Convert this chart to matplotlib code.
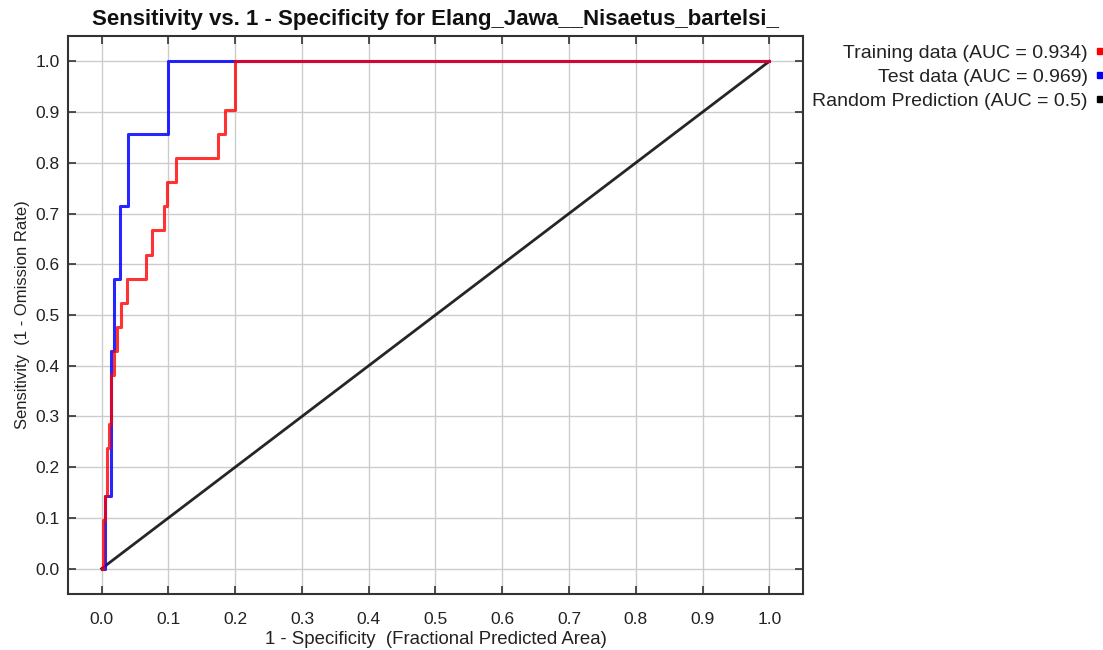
import matplotlib
matplotlib.use("Agg")
import matplotlib.pyplot as plt
import matplotlib.patches as mpatches

title = "Sensitivity vs. 1 - Specificity for Elang_Jawa__Nisaetus_bartelsi_"
xlabel = "1 - Specificity  (Fractional Predicted Area)"
ylabel = "Sensitivity  (1 - Omission Rate)"

train_fpr = [0, 0.002, 0.0045, 0.0075, 0.011, 0.0145, 0.018, 0.0235, 0.0285, 0.0375,
             0.066, 0.076, 0.093, 0.098, 0.112, 0.175, 0.185, 0.2, 1.0]
train_tpr = [n / 21 for n in [0, 2, 3, 5, 6, 8, 9, 10, 11, 12, 13, 14, 15, 16, 17, 18, 19, 21, 21]]
test_fpr = [0, 0.005, 0.0135, 0.018, 0.027, 0.04, 0.1, 1.0]
test_tpr = [n / 7 for n in [0, 1, 3, 4, 5, 6, 7, 7]]
rand_fpr = [0, 1]
rand_tpr = [0, 1]
legend_labels = ["Training data (AUC = 0.934)", "Test data (AUC = 0.969)", "Random Prediction (AUC = 0.5)"]
legend_colors = ["#ff0000", "#0000ff", "#000000"]
ticks = [round(0.1 * i, 1) for i in range(11)]

font = dict(fontfamily="Liberation Sans")
txt = "#222222"

fig = plt.figure(figsize=(11.03, 6.5), dpi=100)
ax = fig.add_axes([0.0619, 0.0862, 0.7277 - 0.0619, 0.9446 - 0.0862])
ax.set_xlim(-0.05, 1.05)
ax.set_ylim(-0.05, 1.05)
ax.grid(True, color="#cccccc", lw=1.0)
ax.set_axisbelow(True)

ax.plot(test_fpr, test_tpr, drawstyle="steps-post", color="#0000ff", lw=2.2, alpha=0.85, zorder=3)
ax.plot(train_fpr, train_tpr, drawstyle="steps-post", color="#ff0000", lw=2.2, alpha=0.8, zorder=4)
ax.plot(rand_fpr, rand_tpr, color="#000000", lw=2.0, alpha=0.85, zorder=2)

ax.set_xticks(ticks)
ax.set_yticks(ticks)
ax.set_xticklabels([f"{t:.1f}" for t in ticks], fontsize=12.5, color=txt, **font)
ax.set_yticklabels([f"{t:.1f}" for t in ticks], fontsize=12.5, color=txt, **font)
ax.tick_params(direction="in", length=6, width=1.2, color="#333333", top=True, right=True)
ax.tick_params(axis="x", pad=13)
ax.tick_params(axis="y", pad=6)
for s in ax.spines.values():
    s.set_color("#333333")
    s.set_linewidth(1.5)

ax.set_title(title, fontweight="bold", fontsize=16, pad=8, color="#111111", **font)
ax.set_xlabel(xlabel, fontsize=13.4, color=txt, labelpad=3, **font)
ax.set_ylabel(ylabel, fontsize=12, color=txt, labelpad=4, **font)

for i, (lab, col) in enumerate(zip(legend_labels, legend_colors)):
    y = 1 - (53 + i * 24) / 650
    fig.text(1088 / 1103, y, lab, ha="right", va="center", fontsize=14, color=txt, **font)
    fig.patches.append(mpatches.Rectangle((1097 / 1103, y - 1 / 650), 5 / 1103, 6 / 650,
                                          transform=fig.transFigure, color=col))

fig.savefig("out.png", dpi=100)
